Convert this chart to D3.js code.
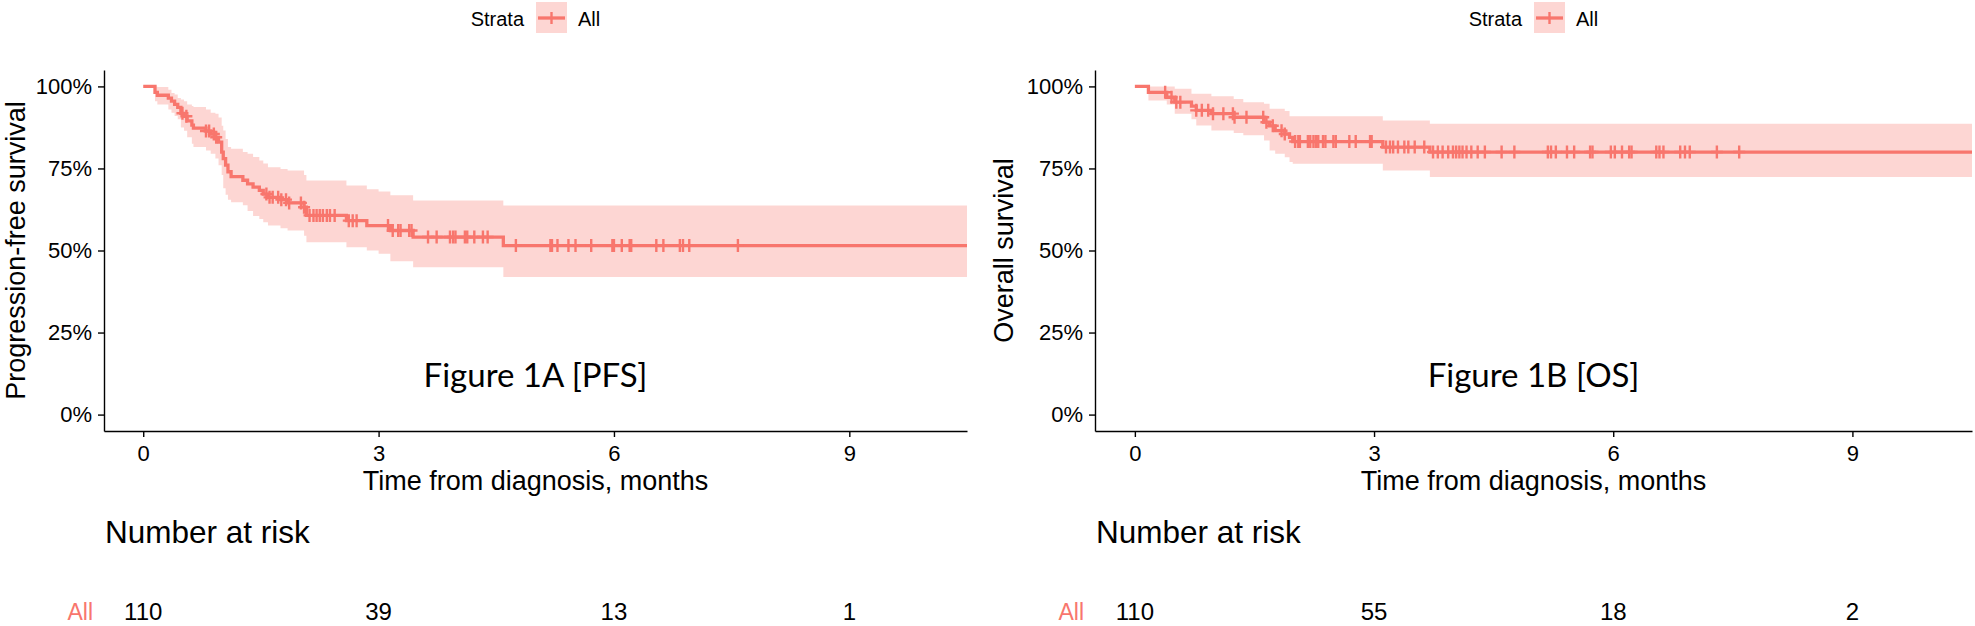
<!DOCTYPE html>
<html>
<head>
<meta charset="utf-8">
<script src="https://cdn.jsdelivr.net/npm/d3@7"></script>
<style>
  body { margin: 0; background: #fff; }
  text { font-family: "Liberation Sans", Arial, sans-serif; fill: #000; }
</style>
</head>
<body>
<script>
// ---- data ----
// PFS step curve (time in months, survival, upper and lower 95% band)
const pfsTime  = [0, 0.15, 0.18, 0.32, 0.36, 0.40, 0.44, 0.48, 0.52, 0.56, 0.62, 0.64, 0.80, 0.86, 0.92, 0.96, 1.00, 1.02, 1.05, 1.08, 1.12, 1.27, 1.33, 1.40, 1.48, 1.53, 1.59, 1.75, 1.84, 2.05, 2.08, 2.59, 2.85, 3.00, 3.15, 3.44, 4.59, 10.5];
const pfsSurv  = [1, 0.982, 0.973, 0.964, 0.955, 0.945, 0.936, 0.918, 0.909, 0.895, 0.882, 0.873, 0.864, 0.855, 0.845, 0.83, 0.80, 0.78, 0.76, 0.74, 0.725, 0.714, 0.703, 0.693, 0.683, 0.672, 0.662, 0.655, 0.645, 0.632, 0.607, 0.591, 0.576, 0.576, 0.561, 0.541, 0.515, 0.515];
const pfsUpper = [1, 1.0, 0.998, 0.99, 0.98, 0.975, 0.965, 0.96, 0.955, 0.945, 0.94, 0.937, 0.93, 0.92, 0.917, 0.905, 0.88, 0.866, 0.84, 0.815, 0.81, 0.80, 0.795, 0.785, 0.774, 0.765, 0.754, 0.748, 0.744, 0.73, 0.713, 0.698, 0.687, 0.68, 0.668, 0.652, 0.637, 0.637];
const pfsLower = [1, 0.955, 0.945, 0.93, 0.92, 0.91, 0.90, 0.875, 0.865, 0.845, 0.825, 0.815, 0.805, 0.795, 0.78, 0.76, 0.73, 0.69, 0.67, 0.655, 0.647, 0.638, 0.62, 0.605, 0.596, 0.586, 0.576, 0.568, 0.561, 0.545, 0.525, 0.51, 0.50, 0.49, 0.467, 0.449, 0.419, 0.419];
const pfsCensor = [0.50, 0.55, 0.80, 0.84, 0.90, 0.93, 1.57, 1.61, 1.65, 1.72, 1.76, 1.82, 1.86, 2.01, 2.05, 2.12, 2.17, 2.21, 2.25, 2.29, 2.34, 2.38, 2.44, 2.62, 2.67, 2.72, 3.12, 3.18, 3.25, 3.28, 3.39, 3.42, 3.63, 3.74, 3.91, 3.95, 3.98, 4.10, 4.13, 4.22, 4.33, 4.39, 4.75, 5.19, 5.21, 5.28, 5.42, 5.51, 5.71, 5.98, 6.00, 6.10, 6.20, 6.22, 6.54, 6.63, 6.84, 6.88, 6.96, 7.58];

// OS step curve
const osTime  = [0, 0.17, 0.40, 0.50, 0.71, 0.77, 0.96, 1.24, 1.36, 1.62, 1.69, 1.76, 1.88, 1.94, 1.98, 3.11, 3.70, 10.5];
const osSurv  = [1, 0.982, 0.967, 0.952, 0.94, 0.927, 0.917, 0.906, 0.906, 0.891, 0.88, 0.865, 0.855, 0.845, 0.832, 0.815, 0.800, 0.800];
const osUpper = [1, 1.0, 1.0, 0.993, 0.978, 0.978, 0.970, 0.962, 0.952, 0.947, 0.932, 0.932, 0.925, 0.909, 0.909, 0.896, 0.886, 0.886];
const osLower = [1, 0.957, 0.945, 0.917, 0.90, 0.881, 0.866, 0.858, 0.851, 0.835, 0.805, 0.795, 0.784, 0.770, 0.764, 0.744, 0.724, 0.724];
const osCensor = [0.38, 0.46, 0.52, 0.57, 0.77, 0.84, 0.92, 0.98, 1.11, 1.23, 1.25, 1.40, 1.61, 1.65, 1.73, 1.84, 1.88, 2.01, 2.05, 2.07, 2.17, 2.20, 2.24, 2.27, 2.30, 2.36, 2.39, 2.49, 2.52, 2.69, 2.77, 2.95, 2.97, 3.15, 3.20, 3.24, 3.30, 3.38, 3.43, 3.51, 3.63, 3.74, 3.80, 3.86, 3.93, 3.99, 4.03, 4.07, 4.11, 4.16, 4.22, 4.30, 4.39, 4.60, 4.76, 5.18, 5.22, 5.28, 5.42, 5.51, 5.71, 5.74, 5.97, 6.02, 6.11, 6.20, 6.23, 6.54, 6.58, 6.63, 6.84, 6.90, 6.96, 7.30, 7.58];

// number at risk table
const riskTimes = [0, 3, 6, 9];
const pfsRisk = [110, 39, 13, 1];
const osRisk = [110, 55, 18, 2];

const yTicks = [0, 0.25, 0.5, 0.75, 1];
const xTicks = [0, 3, 6, 9];

const lineColor = "#F8766D";
const W = 1975, H = 626;

let svg = d3.select("body").append("svg")
    .attr("width", W)
    .attr("height", H);

let panels = [
    { id: "pfs", left: 104, right: 967, time: pfsTime, surv: pfsSurv, upper: pfsUpper, lower: pfsLower,
      censor: pfsCensor, risk: pfsRisk, ylab: "Progression-free survival", ylabX: 25, note: "Figure 1A [PFS]" },
    { id: "os", left: 1095, right: 1972, time: osTime, surv: osSurv, upper: osUpper, lower: osLower,
      censor: osCensor, risk: osRisk, ylab: "Overall survival", ylabX: 1013, note: "Figure 1B [OS]" }
];

let panelTop = 70, panelBottom = 431;
let riskBaseline = 620;

panels.forEach(p => {
    let x = d3.scaleLinear().domain([-0.5, 10.5]).range([p.left, p.right]);
    let y = d3.scaleLinear().domain([-0.05, 1.05]).range([panelBottom, panelTop]);
    let cx = (p.left + p.right) / 2;

    let rows = p.time.map((t, i) => ({ t: t, s: p.surv[i], u: p.upper[i], l: p.lower[i] }));

    svg.append("clipPath").attr("id", "clip-" + p.id)
        .append("rect")
        .attr("x", p.left).attr("y", panelTop)
        .attr("width", p.right - p.left).attr("height", panelBottom - panelTop);

    let g = svg.append("g").attr("clip-path", "url(#clip-" + p.id + ")");

    // confidence band
    g.append("path")
        .datum(rows)
        .attr("fill", lineColor)
        .attr("fill-opacity", 0.3)
        .attr("d", d3.area()
            .curve(d3.curveStepAfter)
            .x(d => x(d.t))
            .y0(d => y(d.l))
            .y1(d => y(d.u)));

    // KM curve
    g.append("path")
        .datum(rows)
        .attr("fill", "none")
        .attr("stroke", lineColor)
        .attr("stroke-width", 3.3)
        .attr("d", d3.line()
            .curve(d3.curveStepAfter)
            .x(d => x(d.t))
            .y(d => y(d.s)));

    // censor marks, placed on the curve level at that time
    let level = t => p.surv[d3.bisectRight(p.time, t) - 1];
    g.selectAll(".censor")
        .data(p.censor)
        .join("path")
        .attr("class", "censor")
        .attr("stroke", lineColor)
        .attr("stroke-width", 2.4)
        .attr("fill", "none")
        .attr("d", t => {
            let px = x(t), py = y(level(t));
            return "M" + (px - 6) + "," + py + "H" + (px + 6) + "M" + px + "," + (py - 6.5) + "V" + (py + 6.5);
        });

    // axes
    let yAxis = svg.append("g")
        .attr("transform", "translate(" + p.left + ",0)")
        .call(d3.axisLeft(y).tickValues(yTicks).tickFormat(d3.format(".0%")).tickSize(6).tickPadding(6).tickSizeOuter(0));
    let xAxis = svg.append("g")
        .attr("transform", "translate(0," + panelBottom + ")")
        .call(d3.axisBottom(x).tickValues(xTicks).tickSize(6).tickPadding(8).tickSizeOuter(0));

    [xAxis, yAxis].forEach(a => {
        a.select(".domain").attr("stroke", "#000").attr("stroke-width", 1.4);
        a.selectAll(".tick line").attr("stroke", "#000").attr("stroke-width", 1.4);
        a.selectAll(".tick text")
            .attr("font-size", 22)
            .attr("font-family", "Liberation Sans, Arial, sans-serif")
            .attr("fill", "#000");
    });

    // axis titles
    svg.append("text")
        .attr("transform", "translate(" + p.ylabX + "," + ((panelTop + panelBottom) / 2) + ") rotate(-90)")
        .attr("text-anchor", "middle")
        .attr("font-size", 27)
        .text(p.ylab);

    svg.append("text")
        .attr("x", cx)
        .attr("y", 490)
        .attr("text-anchor", "middle")
        .attr("font-size", 27)
        .text("Time from diagnosis, months");

    // annotation inside panel
    svg.append("text")
        .attr("x", x(5))
        .attr("y", y(0.083))
        .attr("text-anchor", "middle")
        .attr("font-size", 33)
        .style("font-family", "Lato, 'Open Sans', sans-serif")
        .text(p.note);

    // legend
    svg.append("text")
        .attr("x", cx - 11.5)
        .attr("y", 26)
        .attr("text-anchor", "end")
        .attr("font-size", 20)
        .text("Strata");
    svg.append("rect")
        .attr("x", cx + 0.5).attr("y", 2)
        .attr("width", 31).attr("height", 31)
        .attr("fill", lineColor).attr("fill-opacity", 0.3);
    svg.append("path")
        .attr("stroke", lineColor)
        .attr("stroke-width", 3.3)
        .attr("fill", "none")
        .attr("d", "M" + (cx + 2.5) + ",18H" + (cx + 29.5));
    svg.append("path")
        .attr("stroke", lineColor)
        .attr("stroke-width", 2.4)
        .attr("d", "M" + (cx + 16) + ",12V24");
    svg.append("text")
        .attr("x", cx + 42.5)
        .attr("y", 26)
        .attr("font-size", 20)
        .text("All");

    // number at risk
    svg.append("text")
        .attr("x", p.left + 1)
        .attr("y", 543)
        .attr("font-size", 31.5)
        .text("Number at risk");

    svg.append("text")
        .attr("x", p.left - 11)
        .attr("y", riskBaseline)
        .attr("text-anchor", "end")
        .attr("font-size", 23)
        .style("fill", lineColor)
        .text("All");

    svg.selectAll(".risk-" + p.id)
        .data(riskTimes)
        .join("text")
        .attr("class", "risk-" + p.id)
        .attr("x", d => x(d))
        .attr("y", riskBaseline)
        .attr("text-anchor", "middle")
        .attr("font-size", 24)
        .text((d, i) => p.risk[i]);
});
</script>
</body>
</html>
